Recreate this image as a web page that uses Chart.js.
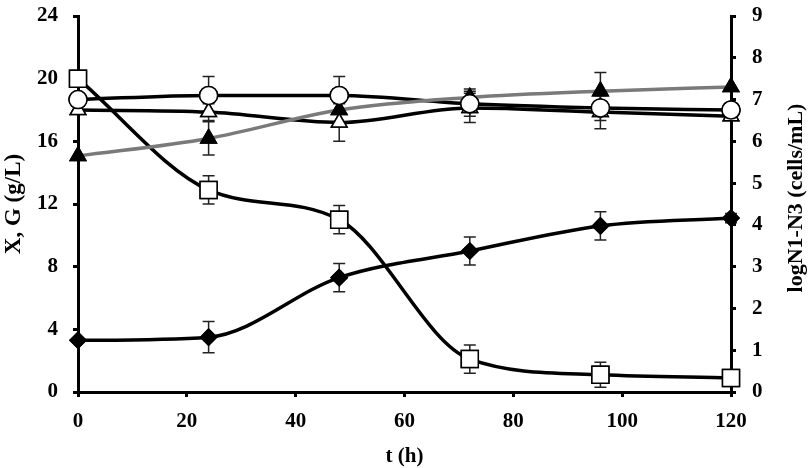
<!DOCTYPE html>
<html>
<head>
<meta charset="utf-8">
<script src="https://cdn.jsdelivr.net/npm/chart.js@4.4.1/dist/chart.umd.min.js"></script>
<style>
  html, body { margin: 0; padding: 0; background: #fff; }
  #wrap { width: 808px; height: 468px; }
</style>
</head>
<body>
<div id="wrap"><canvas id="myChart" width="808" height="468"></canvas></div>
<script>
// time points (h)
const hours = [0, 24, 48, 72, 96, 120];

// left axis: X, G (g/L)
const glucose = [20.0, 12.9, 11.0, 2.1, 1.1, 0.9];
const glucoseErr = [0, 0.9, 0.9, 0.9, 0.8, 0.3];
const biomass = [3.3, 3.5, 7.3, 9.0, 10.6, 11.1];
const biomassErr = [0, 1.0, 0.9, 0.9, 0.9, 0.3];

// right axis: logN1-N3 (cells/mL)
const logN1 = [7.0, 7.1, 7.1, 6.9, 6.8, 6.75];
const logN1Err = [0, 0.45, 0.45, 0.3, 0.3, 0];
const logN2 = [6.75, 6.7, 6.45, 6.8, 6.7, 6.6];
const logN2Err = [0, 0.2, 0.45, 0.35, 0.4, 0];
const logN3 = [5.65, 6.07, 6.75, 7.05, 7.2, 7.3];
const logN3Err = [0, 0.4, 0.3, 0.2, 0.45, 0];

const leftTicks = [0, 4, 8, 12, 16, 20, 24];
const rightTicks = [0, 1, 2, 3, 4, 5, 6, 7, 8, 9];
const xTicks = [0, 20, 40, 60, 80, 100, 120];

const leftTitle = 'X, G (g/L)';
const rightTitle = 'logN1-N3 (cells/mL)';
const bottomTitle = 't (h)';

const tickFont = { family: 'Liberation Serif', size: 21, weight: 'bold' };
const titleFont = { family: 'Liberation Serif', size: 23, weight: 'bold' };

function toPoints(ys) {
    return hours.map((h, i) => ({ x: h, y: ys[i] }));
}

// vertical error bars with caps
const errorBars = {
    id: 'errorBars',
    afterDatasetsDraw(chart) {
        const ctx = chart.ctx;
        chart.data.datasets.forEach(ds => {
            if (!ds.errors) return;
            const xs = chart.scales.x;
            const ys = chart.scales[ds.yAxisID];
            ctx.save();
            ctx.strokeStyle = '#222';
            ctx.lineWidth = 1.5;
            ds.data.forEach((p, i) => {
                const e = ds.errors[i];
                if (!e) return;
                const px = xs.getPixelForValue(p.x);
                const top = ys.getPixelForValue(p.y + e);
                const bot = ys.getPixelForValue(p.y - e);
                ctx.beginPath();
                ctx.moveTo(px, top); ctx.lineTo(px, bot);
                ctx.moveTo(px - 6, top); ctx.lineTo(px + 6, top);
                ctx.moveTo(px - 6, bot); ctx.lineTo(px + 6, bot);
                ctx.stroke();
            });
            ctx.restore();
        });
    }
};

// redraw markers over the error bars
const markersOnTop = {
    id: 'markersOnTop',
    afterDatasetsDraw(chart) {
        chart.data.datasets.forEach((ds, di) => {
            chart.getDatasetMeta(di).data.forEach(pt => pt.draw(chart.ctx, chart.chartArea));
        });
    }
};

// right axis title reads bottom-to-top, like the left one
const rightAxisTitle = {
    id: 'rightAxisTitle',
    afterDraw(chart) {
        const ctx = chart.ctx;
        const a = chart.chartArea;
        ctx.save();
        ctx.translate(796, (a.top + a.bottom) / 2 - 6);
        ctx.rotate(-Math.PI / 2);
        ctx.font = 'bold 22px "Liberation Serif"';
        ctx.fillStyle = '#000';
        ctx.textAlign = 'center';
        ctx.textBaseline = 'middle';
        ctx.fillText(rightTitle, 0, 0);
        ctx.restore();
    }
};

function series(data, errs, axis, style, radius, fill, lineColor) {
    return {
        data: toPoints(data),
        errors: errs,
        yAxisID: axis,
        borderColor: lineColor || '#000',
        borderWidth: 3.5,
        pointStyle: style,
        pointRadius: radius,
        pointBackgroundColor: fill,
        pointBorderColor: '#000',
        pointBorderWidth: 1.5,
        cubicInterpolationMode: 'monotone',
        clip: false
    };
}

const axisGrid = { drawOnChartArea: false, tickLength: 5, color: '#000', lineWidth: 3 };

// fixed axis sizes so the plot area sits where the reference has it
function fitVertical(width) {
    return s => { s.width = width; s.paddingTop = 0; s.paddingBottom = 0; };
}

const ctx = document.getElementById('myChart').getContext('2d');
new Chart(ctx, {
    type: 'line',
    data: {
        datasets: [
            series(logN3, logN3Err, 'y1', 'triangle', 9, '#000', '#7a7a7a'),
            series(logN2, logN2Err, 'y1', 'triangle', 9, '#fff'),
            series(logN1, logN1Err, 'y1', 'circle', 9, '#fff'),
            series(biomass, biomassErr, 'y', 'rectRot', 8, '#000'),
            series(glucose, glucoseErr, 'y', 'rect', 12, '#fff')
        ]
    },
    options: {
        responsive: false,
        animation: false,
        layout: { padding: { top: 16, left: 0, right: 0, bottom: 0 } },
        plugins: { legend: { display: false }, tooltip: { enabled: false } },
        scales: {
            x: {
                type: 'linear', min: 0, max: 120,
                afterBuildTicks: s => { s.ticks = xTicks.map(v => ({ value: v })); },
                afterFit: s => { s.height = 76; s.paddingLeft = 0; s.paddingRight = 0; },
                border: { color: '#000', width: 3 },
                grid: axisGrid,
                ticks: { color: '#000', font: tickFont, padding: 12 },
                title: { display: true, text: bottomTitle, color: '#000', font: tickFont, padding: { top: 0, bottom: -1 } }
            },
            y: {
                position: 'left', min: 0, max: 24,
                afterBuildTicks: s => { s.ticks = leftTicks.map(v => ({ value: v })); },
                afterFit: fitVertical(78),
                border: { color: '#000', width: 3 },
                grid: axisGrid,
                ticks: { color: '#000', font: tickFont, padding: 15 },
                title: { display: true, text: leftTitle, color: '#000', font: titleFont, padding: { top: 0, bottom: 0 } }
            },
            y1: {
                position: 'right', min: 0, max: 9,
                afterBuildTicks: s => { s.ticks = rightTicks.map(v => ({ value: v })); },
                afterFit: fitVertical(77),
                border: { color: '#000', width: 3 },
                grid: axisGrid,
                ticks: { color: '#000', font: tickFont, padding: 16 }
            }
        }
    },
    plugins: [errorBars, markersOnTop, rightAxisTitle]
});
</script>
</body>
</html>
